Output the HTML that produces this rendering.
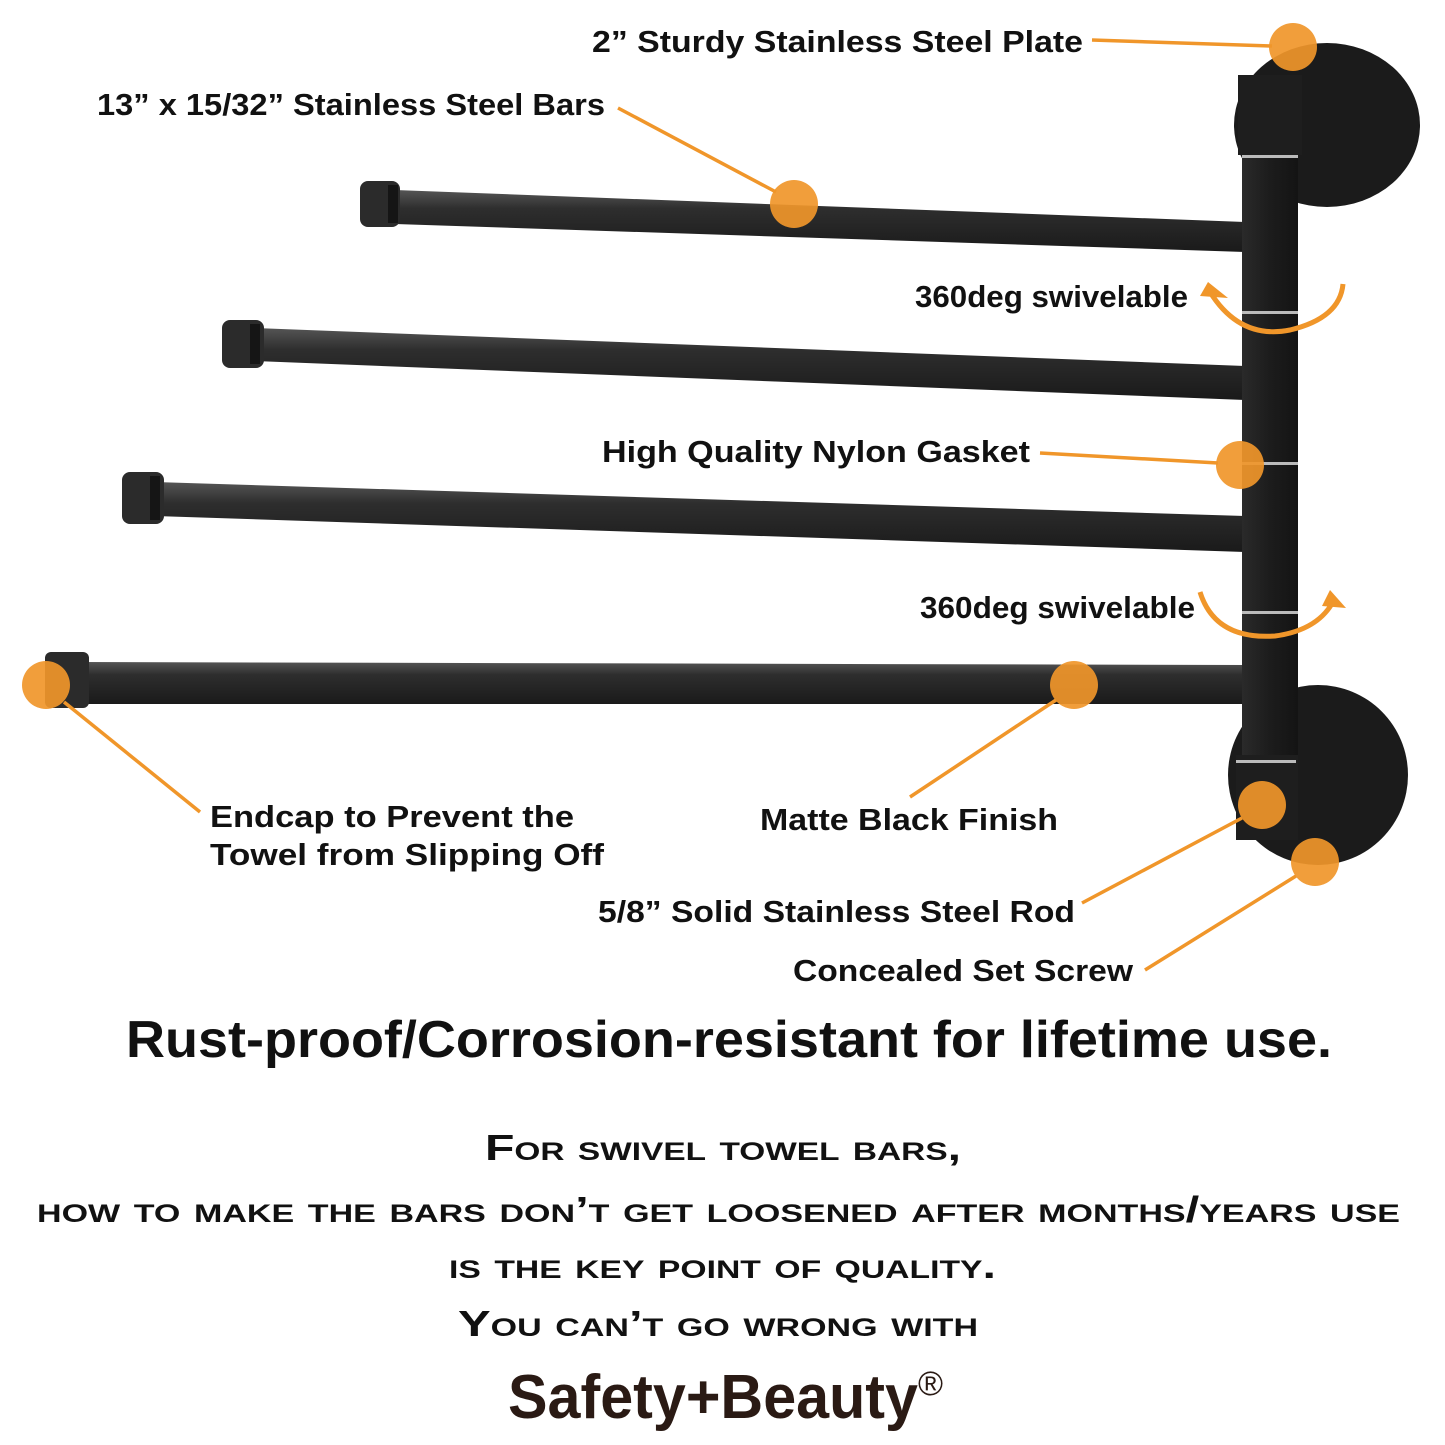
<!DOCTYPE html>
<html><head><meta charset="utf-8"><style>
html,body{margin:0;padding:0;background:#fff;}
svg{display:block;}
text{font-family:"Liberation Sans",sans-serif;font-weight:bold;fill:#111;}
</style></head><body>
<svg width="1445" height="1445" viewBox="0 0 1445 1445" xmlns="http://www.w3.org/2000/svg">
<defs>
<linearGradient id="bar" x1="0" y1="0" x2="0" y2="1">
<stop offset="0" stop-color="#555"/><stop offset="0.3" stop-color="#2e2e2e"/><stop offset="1" stop-color="#1a1a1a"/>
</linearGradient>
<linearGradient id="post" x1="0" y1="0" x2="1" y2="0">
<stop offset="0" stop-color="#2a2a2a"/><stop offset="0.5" stop-color="#1c1c1c"/><stop offset="1" stop-color="#141414"/>
</linearGradient>
</defs>
<ellipse cx="1327" cy="125" rx="93" ry="82" fill="#1b1b1b"/>
<ellipse cx="1318" cy="775" rx="90" ry="90" fill="#1b1b1b"/>
<polygon points="395,190 1245,222 1245,252 395,224" fill="url(#bar)"/>
<rect x="360" y="181" width="40" height="46" rx="8" fill="#2b2b2b"/>
<rect x="388" y="185" width="10" height="38" fill="#151515"/>
<polygon points="255,328 1245,366 1245,400 255,361" fill="url(#bar)"/>
<rect x="222" y="320" width="42" height="48" rx="8" fill="#2b2b2b"/>
<rect x="250" y="324" width="10" height="40" fill="#151515"/>
<polygon points="155,482 1245,516 1245,552 155,516" fill="url(#bar)"/>
<rect x="122" y="472" width="42" height="52" rx="8" fill="#2b2b2b"/>
<rect x="150" y="476" width="10" height="44" fill="#151515"/>
<polygon points="80,662 1248,665 1248,704 80,704" fill="url(#bar)"/>
<rect x="45" y="652" width="44" height="56" rx="6" fill="#2b2b2b"/>
<rect x="1242" y="140" width="56" height="700" fill="url(#post)"/>
<rect x="1238" y="75" width="64" height="80" fill="#1e1e1e"/>
<rect x="1242" y="155" width="56" height="3" fill="#bbb"/>
<rect x="1242" y="311" width="56" height="3" fill="#bbb"/>
<rect x="1242" y="462" width="56" height="3" fill="#bbb"/>
<rect x="1242" y="611" width="56" height="3" fill="#bbb"/>
<rect x="1236" y="755" width="62" height="85" fill="#1e1e1e"/>
<rect x="1236" y="760" width="60" height="3" fill="#bbb"/>
<g fill="none" stroke="#f0962a" stroke-width="5">
<path d="M1210,292 Q1240,340 1290,330 Q1340,318 1343,284"/>
<path d="M1200,592 Q1215,640 1275,636 Q1320,630 1335,598"/>
</g>
<polygon points="1200,296 1208,282 1228,298" fill="#f0962a"/>
<polygon points="1346,608 1330,590 1322,606" fill="#f0962a"/>
<g stroke="#f0962a" stroke-width="3.5">
<line x1="1092" y1="40" x2="1272" y2="46"/>
<line x1="618" y1="108" x2="776" y2="192"/>
<line x1="1040" y1="453" x2="1218" y2="463"/>
<line x1="910" y1="797" x2="1056" y2="700"/>
<line x1="200" y1="812" x2="64" y2="702"/>
<line x1="1082" y1="903" x2="1242" y2="818"/>
<line x1="1145" y1="970" x2="1296" y2="876"/>
</g>
<g fill="#f0962a" fill-opacity="0.92">
<circle cx="1293" cy="47" r="24"/>
<circle cx="794" cy="204" r="24"/>
<circle cx="1240" cy="465" r="24"/>
<circle cx="1074" cy="685" r="24"/>
<circle cx="46" cy="685" r="24"/>
<circle cx="1262" cy="805" r="24"/>
<circle cx="1315" cy="862" r="24"/>
</g>
<g font-size="31">
<text x="592" y="52" textLength="491" lengthAdjust="spacingAndGlyphs">2” Sturdy Stainless Steel Plate</text>
<text x="97" y="115" textLength="508" lengthAdjust="spacingAndGlyphs">13” x 15/32” Stainless Steel Bars</text>
<text x="915" y="307" textLength="273" lengthAdjust="spacingAndGlyphs">360deg swivelable</text>
<text x="602" y="462" textLength="428" lengthAdjust="spacingAndGlyphs">High Quality Nylon Gasket</text>
<text x="920" y="618" textLength="275" lengthAdjust="spacingAndGlyphs">360deg swivelable</text>
<text x="210" y="827" textLength="364" lengthAdjust="spacingAndGlyphs">Endcap to Prevent the</text>
<text x="210" y="865" textLength="394" lengthAdjust="spacingAndGlyphs">Towel from Slipping Off</text>
<text x="760" y="830" textLength="298" lengthAdjust="spacingAndGlyphs">Matte Black Finish</text>
<text x="598" y="922" textLength="477" lengthAdjust="spacingAndGlyphs">5/8” Solid Stainless Steel Rod</text>
<text x="793" y="981" textLength="340" lengthAdjust="spacingAndGlyphs">Concealed Set Screw</text>
</g>
<text x="126" y="1057" font-size="52" textLength="1206" lengthAdjust="spacingAndGlyphs">Rust-proof/Corrosion-resistant for lifetime use.</text>
<g font-size="36" style="font-variant:small-caps">
<text x="485" y="1160" textLength="476" lengthAdjust="spacingAndGlyphs">For swivel towel bars,</text>
<text x="37" y="1222" textLength="1363" lengthAdjust="spacingAndGlyphs">how to make the bars don’t get loosened after months/years use</text>
<text x="449" y="1278" textLength="547" lengthAdjust="spacingAndGlyphs">is the key point of quality.</text>
<text x="458" y="1336" textLength="520" lengthAdjust="spacingAndGlyphs">You can’t go wrong with</text>
</g>
<text x="508" y="1418" font-size="62" style="fill:#2a1a14" textLength="410" lengthAdjust="spacingAndGlyphs">Safety+Beauty</text>
<text x="918" y="1395" font-size="34" style="fill:#2a1a14;font-weight:normal">®</text>
</svg>
</body></html>
